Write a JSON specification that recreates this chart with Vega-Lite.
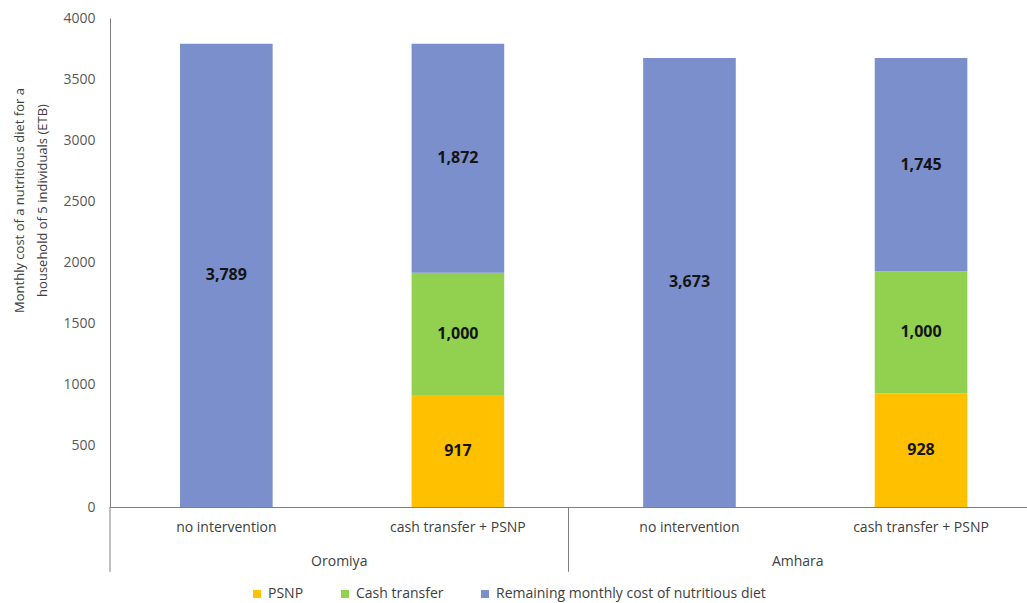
{
  "$schema": "https://vega.github.io/schema/vega-lite/v6.json",
  "width": 917,
  "height": 489,
  "autosize": {"type": "none"},
  "padding": {"left": 110, "top": 18, "right": 0, "bottom": 96},
  "background": "white",
  "config": {
    "view": {"stroke": null},
    "font": "Open Sans",
    "axisY": {"titleLineHeight": 23},
    "legend": {
      "orient": "none",
      "legendX": 140,
      "legendY": 569,
      "direction": "horizontal",
      "symbolType": "square",
      "symbolSize": 64,
      "symbolStrokeWidth": 0,
      "labelFont": "Open Sans",
      "labelFontSize": 14,
      "labelColor": "#404040",
      "labelOffset": 4,
      "columnPadding": 34,
      "labelLimit": 400
    }
  },
  "datasets": {
    "costs": [
      {"region": "Oromiya", "scenario": "no intervention", "bar": "Oromiya|no intervention", "component": "Remaining monthly cost of nutritious diet", "stackOrder": 3, "value": 3789},
      {"region": "Oromiya", "scenario": "cash transfer + PSNP", "bar": "Oromiya|cash transfer + PSNP", "component": "PSNP", "stackOrder": 1, "value": 917},
      {"region": "Oromiya", "scenario": "cash transfer + PSNP", "bar": "Oromiya|cash transfer + PSNP", "component": "Cash transfer", "stackOrder": 2, "value": 1000},
      {"region": "Oromiya", "scenario": "cash transfer + PSNP", "bar": "Oromiya|cash transfer + PSNP", "component": "Remaining monthly cost of nutritious diet", "stackOrder": 3, "value": 1872},
      {"region": "Amhara", "scenario": "no intervention", "bar": "Amhara|no intervention", "component": "Remaining monthly cost of nutritious diet", "stackOrder": 3, "value": 3673},
      {"region": "Amhara", "scenario": "cash transfer + PSNP", "bar": "Amhara|cash transfer + PSNP", "component": "PSNP", "stackOrder": 1, "value": 928},
      {"region": "Amhara", "scenario": "cash transfer + PSNP", "bar": "Amhara|cash transfer + PSNP", "component": "Cash transfer", "stackOrder": 2, "value": 1000},
      {"region": "Amhara", "scenario": "cash transfer + PSNP", "bar": "Amhara|cash transfer + PSNP", "component": "Remaining monthly cost of nutritious diet", "stackOrder": 3, "value": 1745}
    ],
    "regions": [
      {"region": "Oromiya"},
      {"region": "Amhara"}
    ]
  },
  "layer": [
    {
      "data": {"name": "costs"},
      "encoding": {
        "x": {
          "field": "bar",
          "type": "nominal",
          "sort": null,
          "scale": {
            "type": "band",
            "domain": ["Oromiya|no intervention", "Oromiya|cash transfer + PSNP", "Amhara|no intervention", "Amhara|cash transfer + PSNP"],
            "paddingInner": 0.6,
            "paddingOuter": 0.28,
            "align": 0.54
          },
          "axis": {
            "orient": "bottom",
            "title": null,
            "labelExpr": "split(datum.label, '|')[1]",
            "labelAngle": 0,
            "ticks": false,
            "tickSize": 0,
            "labelPadding": 13,
            "labelFont": "Open Sans",
            "labelFontSize": 14,
            "labelColor": "#404040",
            "domainColor": "#7f7f7f",
            "domainWidth": 1,
            "grid": false
          }
        },
        "order": {"field": "stackOrder", "type": "quantitative"}
      },
      "layer": [
        {
          "mark": {"type": "bar"},
          "encoding": {
            "y": {
              "field": "value",
              "type": "quantitative",
              "stack": "zero",
              "scale": {"domain": [0, 4000], "nice": false},
              "axis": {
                "title": ["Monthly cost of a nutritious diet for a", "household of 5 individuals (ETB)"],
                "values": [0, 500, 1000, 1500, 2000, 2500, 3000, 3500, 4000],
                "format": "d",
                "grid": false,
                "ticks": false,
                "tickSize": 0,
                "labelPadding": 15,
                "labelFont": "Open Sans",
                "labelFontSize": 14,
                "labelColor": "#595959",
                "domainColor": "#7f7f7f",
                "domainWidth": 1,
                "titleFont": "Open Sans",
                "titleFontSize": 13,
                "titleFontWeight": "normal",
                "titleColor": "#404040",
                "titleAngle": -90,
                "titleX": -97,
                "titleY": 182,
                "titleAlign": "center",
                "titleBaseline": "top",
                "titleLineHeight": 23
              }
            },
            "color": {
              "field": "component",
              "type": "nominal",
              "scale": {
                "domain": ["PSNP", "Cash transfer", "Remaining monthly cost of nutritious diet"],
                "range": ["#FFC000", "#92D050", "#7B8FCC"]
              },
              "legend": {"title": null}
            }
          }
        },
        {
          "mark": {"type": "text", "font": "Open Sans", "fontWeight": "bold", "fontSize": 16, "color": "#141414", "baseline": "middle", "align": "center"},
          "encoding": {
            "y": {
              "field": "value",
              "type": "quantitative",
              "stack": "zero",
              "bandPosition": 0.5,
              "scale": {"domain": [0, 4000], "nice": false}
            },
            "detail": {"field": "component", "type": "nominal"},
            "text": {"field": "value", "type": "quantitative", "format": ","}
          }
        }
      ]
    },
    {
      "data": {"name": "regions"},
      "mark": {"type": "rule", "color": "#7f7f7f", "strokeWidth": 1},
      "encoding": {
        "x": {
          "field": "region",
          "type": "nominal",
          "sort": null,
          "bandPosition": 0,
          "scale": {"type": "band", "domain": ["Oromiya", "Amhara"], "paddingInner": 0, "paddingOuter": 0},
          "axis": {
            "orient": "bottom",
            "title": null,
            "labelAngle": 0,
            "ticks": false,
            "tickSize": 0,
            "domain": false,
            "grid": false,
            "labelPadding": 47,
            "labelFont": "Open Sans",
            "labelFontSize": 14,
            "labelColor": "#404040"
          }
        },
        "y": {"datum": 0},
        "y2": {"datum": -530}
      }
    }
  ],
  "resolve": {"scale": {"x": "independent"}, "axis": {"x": "independent"}}
}
